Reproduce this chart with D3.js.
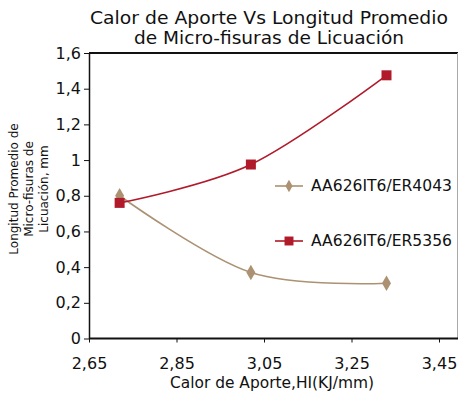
<!DOCTYPE html>
<meta charset="utf-8">
<script src="https://d3js.org/d3.v7.min.js"></script>
<style>
body { margin: 0; background: #fff; }
svg text { font-family: "DejaVu Sans", sans-serif; fill: #111; }
.axis path, .axis line { stroke: #111; }
</style>
<body>
<div id="canvas"></div>
<script>

// datos ---------------------------------------------------------
var calorAporte = [2.72, 3.02, 3.33];
var serieER4043 = [0.80, 0.37, 0.31];
var serieER5356 = [0.76, 0.975, 1.475];
var nombres = ["AA626IT6/ER4043", "AA626IT6/ER5356"];
var xTicks = [2.65, 2.85, 3.05, 3.25, 3.45];
var yTicks = [0, 0.2, 0.4, 0.6, 0.8, 1, 1.2, 1.4, 1.6];

var width = 459, height = 395;
var margin = {top: 53, right: 1, bottom: 57, left: 89};

var svg = d3.select("#canvas").append("svg")
	.attr("width", width)
	.attr("height", height);

var x = d3.scaleLinear().domain([2.65, 3.45]).range([margin.left, 439]);
var y = d3.scaleLinear().domain([0, 1.6]).range([height - margin.bottom + 0.5, margin.top]);

var fmt = function(d) { return String(d).replace(".", ","); };
var fmtX = function(d) { return d.toFixed(2).replace(".", ","); };

// marco ---------------------------------------------------------
svg.append("line")
	.attr("x1", margin.left).attr("x2", 458)
	.attr("y1", margin.top).attr("y2", margin.top)
	.attr("stroke", "#111").attr("stroke-width", 2);
svg.append("line")
	.attr("x1", 457.5).attr("x2", 457.5)
	.attr("y1", margin.top).attr("y2", y(0))
	.attr("stroke", "#aaa").attr("stroke-width", 1);

// ejes ----------------------------------------------------------
var gx = svg.append("g")
	.attr("class", "axis")
	.attr("transform", "translate(0," + y(0) + ")")
	.call(d3.axisBottom(x).tickValues(xTicks).tickFormat(fmtX).tickSize(4).tickSizeOuter(0));
gx.select(".domain").attr("d", "M" + margin.left + ",0H458").attr("stroke-width", 2);
gx.selectAll("text").attr("dy", "1.45em").style("font-size", "16px");

var gy = svg.append("g")
	.attr("class", "axis")
	.attr("transform", "translate(" + margin.left + ",0)")
	.call(d3.axisLeft(y).tickValues(yTicks).tickFormat(fmt).tickSize(5).tickSizeOuter(0));
gy.select(".domain").attr("stroke-width", 1.5);
gy.selectAll("text").attr("x", -8).style("font-size", "16px");

// titulos -------------------------------------------------------
var titulo = ["Calor de Aporte Vs Longitud Promedio", "de Micro-fisuras de Licuación"];
var anchoTitulo = [358, 270];
svg.selectAll(".titulo").data(titulo).enter().append("text")
	.attr("class", "titulo")
	.attr("x", 269)
	.attr("y", function(d, i) { return 24 + i * 20; })
	.attr("text-anchor", "middle")
	.attr("textLength", function(d, i) { return anchoTitulo[i]; })
	.attr("lengthAdjust", "spacingAndGlyphs")
	.style("font-size", "17px")
	.text(function(d) { return d; });

svg.append("text")
	.attr("x", 272)
	.attr("y", 388)
	.attr("text-anchor", "middle")
	.attr("textLength", 204)
	.attr("lengthAdjust", "spacingAndGlyphs")
	.style("font-size", "15px")
	.text("Calor de Aporte,HI(KJ/mm)");

var tituloY = ["Longitud Promedio de", "Micro-fisuras de", "Licuación, mm"];
svg.selectAll(".tituloY").data(tituloY).enter().append("text")
	.attr("class", "tituloY")
	.attr("transform", function(d, i) { return "translate(" + (18 + i * 15) + ",189) rotate(-90)"; })
	.attr("text-anchor", "middle")
	.style("font-size", "12px")
	.text(function(d) { return d; });

// series --------------------------------------------------------
var series = [
	{nombre: nombres[0], valores: serieER4043, color: "#ac9272", forma: d3.symbolDiamond},
	{nombre: nombres[1], valores: serieER5356, color: "#b01a2a", forma: d3.symbolSquare}
];

var linea = d3.line()
	.x(function(d) { return x(d[0]); })
	.y(function(d) { return y(d[1]); })
	.curve(d3.curveCardinal.tension(0));

series.forEach(function(s, k) {
	var pts = calorAporte.map(function(c, i) { return [c, s.valores[i]]; });
	svg.append("path")
		.attr("d", linea(pts))
		.attr("fill", "none")
		.attr("stroke", s.color)
		.attr("stroke-width", 1.6);
	svg.selectAll(".m" + k).data(pts).enter().append("path")
		.attr("class", "m" + k)
		.attr("transform", function(d) { return "translate(" + x(d[0]) + "," + y(d[1]) + ")"; })
		.attr("d", d3.symbol().type(s.forma).size(k == 0 ? 70 : 100))
		.attr("fill", s.color);

	// leyenda
	var ly = 186 + k * 55;
	svg.append("line")
		.attr("x1", 275).attr("x2", 303)
		.attr("y1", ly).attr("y2", ly)
		.attr("stroke", s.color).attr("stroke-width", 1.6);
	svg.append("path")
		.attr("transform", "translate(289," + ly + ")")
		.attr("d", d3.symbol().type(s.forma).size(k == 0 ? 45 : 80))
		.attr("fill", s.color);
	svg.append("text")
		.attr("x", 311)
		.attr("y", ly)
		.attr("dy", "0.35em")
		.attr("textLength", 141)
		.attr("lengthAdjust", "spacingAndGlyphs")
		.style("font-size", "15px")
		.text(s.nombre);
});

</script>
</body>
